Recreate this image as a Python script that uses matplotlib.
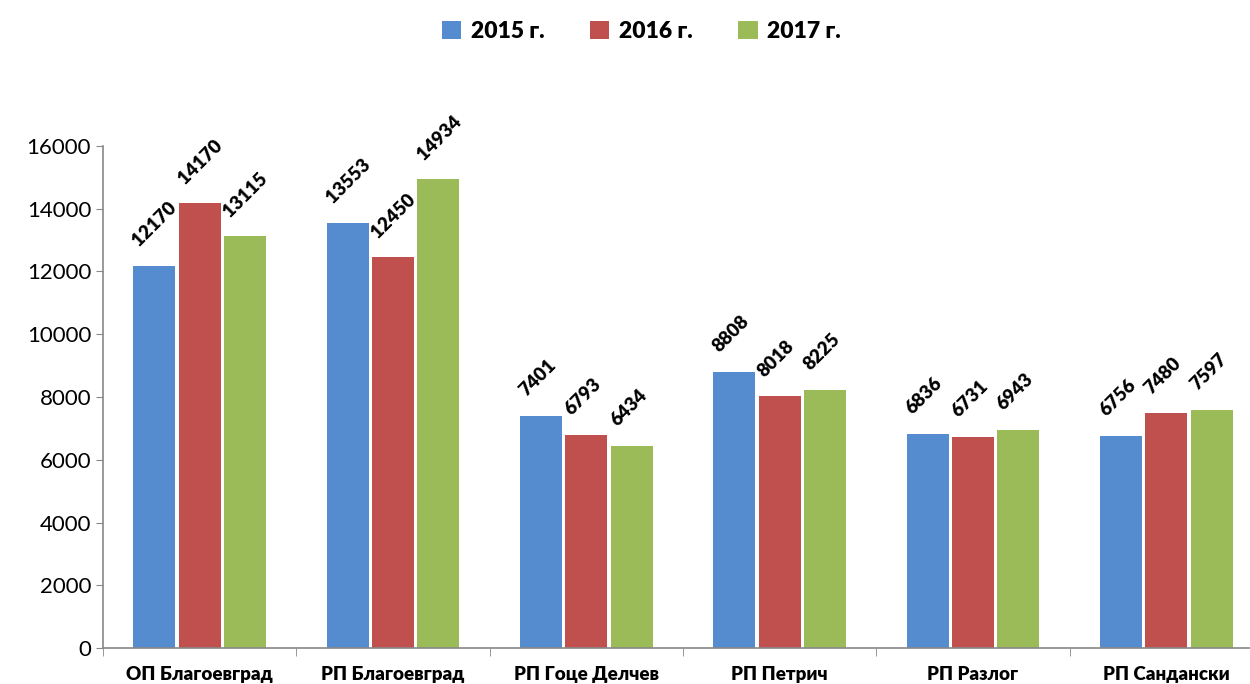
import matplotlib.pyplot as plt
import numpy as np

plt.rcParams['font.family'] = ['Lato', 'DejaVu Sans']

# data
categories = ['ОП Благоевград', 'РП Благоевград', 'РП Гоце Делчев',
              'РП Петрич', 'РП Разлог', 'РП Сандански']
series = ['2015 г.', '2016 г.', '2017 г.']
v2015 = [12170, 13553, 7401, 8808, 6836, 6756]
v2016 = [14170, 12450, 6793, 8018, 6731, 7480]
v2017 = [13115, 14934, 6434, 8225, 6943, 7597]
yticks = [0, 2000, 4000, 6000, 8000, 10000, 12000, 14000, 16000]

colors = ['#558BCF', '#C0504D', '#9BBB59']

fig = plt.figure(figsize=(12.5, 6.84), dpi=100)
ax = fig.add_axes([0.0824, 0.0526, 0.928, 0.734])

x = np.arange(len(categories))
step = 0.235
width = 0.217
for i, (vals, name) in enumerate(zip([v2015, v2016, v2017], series)):
    pos = x + (i - 1) * step
    ax.bar(pos, vals, width=width, color=colors[i], label=name)
    for p, v in zip(pos, vals):
        ax.annotate(str(v), xy=(p - width / 2, v), xytext=(6, 12),
                    textcoords='offset points', rotation=45,
                    rotation_mode='anchor', ha='left', va='bottom',
                    fontsize=13.5, fontweight='heavy')

ax.set_xlim(-0.5, len(categories) - 0.5)
ax.set_ylim(0, 16000)
ax.set_yticks(yticks)
ax.tick_params(axis='y', labelsize=16, length=5, color='#888888', direction='out')

ax.set_xticks(x)
ax.set_xticklabels(categories, fontsize=13.5, fontweight='heavy')
ax.tick_params(axis='x', which='major', length=0, pad=13)
ax.set_xticks(np.arange(len(categories) + 1) - 0.5, minor=True)
ax.tick_params(axis='x', which='minor', length=6, color='#888888', direction='out')

for s in ['top', 'right']:
    ax.spines[s].set_visible(False)
for s in ['left', 'bottom']:
    ax.spines[s].set_color('#888888')
    ax.spines[s].set_linewidth(1.2)

fig.legend(loc='upper center', bbox_to_anchor=(0.513, 1.0), ncol=3, frameon=False,
           prop={'size': 16.5, 'weight': 'heavy'}, handlelength=0.85, handleheight=0.85,
           columnspacing=2.0, handletextpad=0.4)

fig.savefig('out.png', dpi=100)
